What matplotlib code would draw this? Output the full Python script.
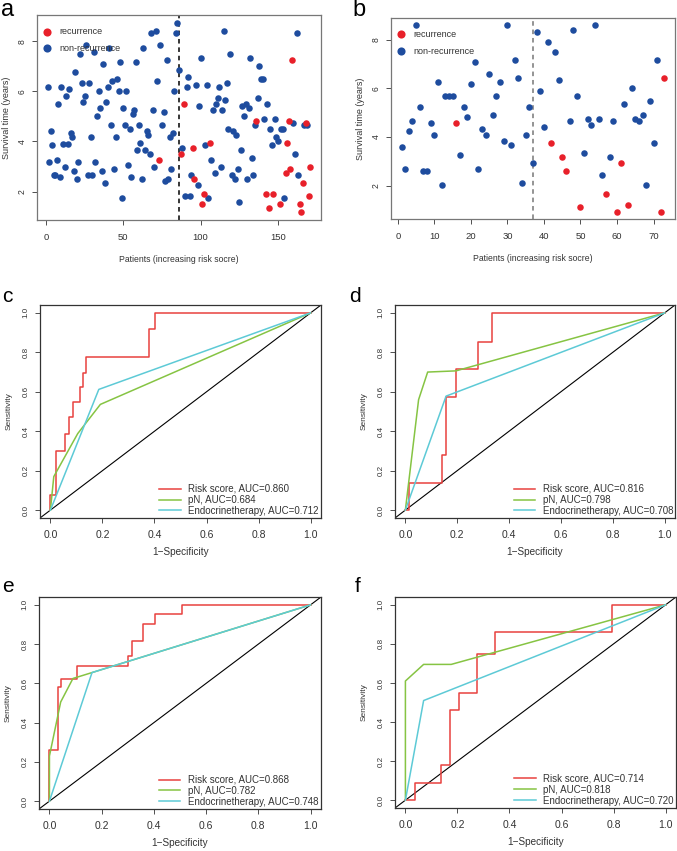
"""Risk score figure: survival scatter (a, b) and ROC curves (c-f)."""

import numpy as np
import matplotlib.pyplot as plt

plt.rcParams['font.family'] = ['Liberation Sans', 'DejaVu Sans']


# %% data: survival time of each patient, ordered by risk score

surv_a = [6.16, 3.17, 4.42, 3.84, 2.67, 2.67, 3.25, 5.5, 2.6, 6.16,
          3.9, 3.0, 5.83, 3.9, 6.08, 4.35, 4.17, 2.83, 6.75, 2.5,
          3.17, 7.5, 6.33, 5.58, 5.83, 7.84, 2.67, 6.33, 4.17, 2.67,
          7.57, 3.17, 5.0, 6.0, 5.33, 2.83, 7.08, 2.33, 5.58, 6.16,
          7.74, 4.66, 6.42, 2.91, 4.17, 6.5, 6.0, 7.17, 1.75, 5.33,
          4.66, 6.0, 3.08, 4.5, 2.6, 5.08, 5.25, 7.17, 3.66, 4.66,
          3.92, 2.5, 7.74, 3.66, 4.42, 4.24, 3.5, 8.33, 5.25, 3.0,
          8.4, 6.42, 3.25, 7.84, 4.66, 5.17, 2.42, 7.25, 2.5, 4.17,
          2.91, 4.34, 6.0, 8.33, 8.74, 6.83, 3.5, 3.74, 5.5, 1.84,
          6.16, 6.58, 1.84, 2.67, 3.74, 2.5, 6.25, 2.26, 5.41, 7.33,
          1.5, 1.92, 3.84, 6.25, 1.75, 3.92, 3.25, 5.25, 2.75, 5.5,
          5.75, 6.16, 3.0, 5.25, 8.4, 5.66, 6.33, 4.5, 7.5, 2.67,
          4.42, 2.5, 4.25, 2.91, 1.58, 3.66, 5.41, 5.0, 5.5, 2.5,
          5.33, 7.33, 3.33, 2.67, 4.66, 4.83, 5.75, 7.0, 6.5, 6.5,
          4.91, 1.92, 5.5, 1.33, 4.5, 3.84, 1.92, 4.91, 4.17, 4.0,
          1.5, 4.5, 4.5, 1.75, 2.75, 3.92, 4.83, 2.91, 7.25, 4.75,
          3.5, 8.33, 2.67, 1.5, 1.17, 2.33, 4.66, 4.75, 4.66, 1.84,
          3.0]
recur_a = [73, 87, 89, 95, 96, 101, 102, 106, 136, 142, 144, 147, 151,
           155, 156, 157, 158, 159, 164, 165, 166, 168, 170, 171]
cut_a = 86

surv_b = [3.58, 2.68, 4.26, 4.67, 8.59, 5.24, 2.58, 2.58, 4.59, 4.08,
          6.25, 2.01, 5.67, 5.67, 5.67, 4.59, 3.27, 5.24, 4.83, 6.17,
          7.09, 2.68, 4.34, 4.08, 6.58, 4.92, 5.67, 6.25, 3.84, 8.59,
          3.68, 7.17, 6.42, 2.09, 4.08, 5.24, 2.92, 8.33, 5.9, 4.43,
          7.92, 3.76, 7.5, 6.34, 3.18, 2.58, 4.67, 8.41, 5.67, 1.1,
          3.33, 4.75, 4.51, 8.59, 4.75, 2.42, 1.67, 3.17, 4.67, 0.93,
          2.92, 5.34, 1.18, 6.0, 4.75, 4.67, 4.92, 2.01, 5.5, 3.76,
          7.17, 0.93, 6.42]
recur_b = [16, 42, 45, 46, 50, 57, 60, 61, 63, 72, 73]
cut_b = 37

# ROC curves as (1-specificity, sensitivity) vertices
risk_c = ([0, 0, 0.023, 0.023, 0.055, 0.055, 0.071, 0.071, 0.087, 0.087,
           0.113, 0.113, 0.126, 0.126, 0.135, 0.135, 0.378, 0.378, 0.401, 0.401, 1],
          [0, 0.077, 0.077, 0.30, 0.30, 0.386, 0.386, 0.473, 0.473, 0.547,
           0.547, 0.622, 0.622, 0.697, 0.697, 0.774, 0.774, 0.92, 0.92, 1, 1])
pn_c = ([0, 0.013, 0.105, 0.192, 1], [0, 0.17, 0.388, 0.536, 1])
endo_c = ([0, 0.186, 1], [0, 0.612, 1])
auc_c = [0.860, 0.684, 0.712]

risk_d = ([0, 0.015, 0.015, 0.14, 0.14, 0.157, 0.157, 0.195, 0.195, 0.28,
           0.28, 0.333, 0.333, 1],
          [0, 0, 0.14, 0.14, 0.28, 0.28, 0.575, 0.575, 0.714, 0.714,
           0.852, 0.852, 1, 1])
pn_d = ([0, 0.051, 0.086, 0.195, 1], [0, 0.56, 0.70, 0.706, 1])
endo_d = ([0, 0.157, 1], [0, 0.578, 1])
auc_d = [0.816, 0.798, 0.708]

risk_e = ([0, 0, 0.031, 0.031, 0.043, 0.043, 0.105, 0.105, 0.30, 0.30,
           0.316, 0.316, 0.358, 0.358, 0.403, 0.403, 0.509, 0.509, 1],
          [0, 0.263, 0.263, 0.58, 0.58, 0.62, 0.62, 0.69, 0.69, 0.741,
           0.741, 0.816, 0.816, 0.904, 0.904, 0.953, 0.953, 1, 1])
pn_e = ([0, 0, 0.043, 0.09, 0.163, 1], [0, 0.23, 0.505, 0.625, 0.655, 1])
endo_e = ([0, 0.163, 1], [0, 0.655, 1])
auc_e = [0.868, 0.782, 0.748]

risk_f = ([0, 0.035, 0.035, 0.137, 0.137, 0.173, 0.173, 0.207, 0.207, 0.276,
           0.276, 0.343, 0.343, 0.793, 0.793, 1],
          [0, 0, 0.09, 0.09, 0.18, 0.18, 0.46, 0.46, 0.55, 0.55,
           0.746, 0.746, 0.861, 0.861, 1, 1])
pn_f = ([0, 0, 0.07, 0.176, 1], [0, 0.61, 0.695, 0.695, 1])
endo_f = ([0, 0.07, 1], [0, 0.51, 1])
auc_f = [0.714, 0.818, 0.720]

roc_names = ['Risk score', 'pN', 'Endocrinetherapy']
roc_colors = ['#E8413F', '#86C443', '#5DCAD6']
red, blue = '#E8202A', '#1E4C9E'

# %% layout helpers

W, H = 677, 851


def rect(left, top, right, bottom):
    return [left / W, 1 - bottom / H, (right - left) / W, (bottom - top) / H]


def style_axes(ax, frame='#555555'):
    for sp in ax.spines.values():
        sp.set_color(frame)
        sp.set_linewidth(0.9)
    ax.tick_params(direction='out', length=3.5, width=0.6, pad=4,
                   colors='#333333')
    for lab in ax.get_yticklabels():
        lab.set_rotation(90)
        lab.set_va('center')


fig = plt.figure(figsize=(W / 100, H / 100), dpi=100)


# %% survival scatter panels

def scatter_panel(box, surv, recur, cut, ticks, line_color, letter, letter_xy):
    ax = fig.add_axes(rect(*box))
    idx = np.arange(1, len(surv) + 1)
    surv = np.array(surv)
    is_rec = np.isin(idx, recur)
    ax.scatter(idx[~is_rec], surv[~is_rec], s=22, color=blue, lw=0,
               label='non-recurrence', zorder=3)
    ax.scatter(idx[is_rec], surv[is_rec], s=22, color=red, lw=0,
               label='recurrence', zorder=3)
    ax.axvline(cut, color=line_color, ls=(0, (3, 2.5)), lw=1.1)
    n = len(surv)
    pad = 0.04 * (n - 1)
    ax.set_xlim(1 - pad, n + pad)
    span = surv.max() - surv.min()
    ax.set_ylim(surv.min() - 0.04 * span, surv.max() + 0.04 * span)
    ax.set_xticks(ticks)
    ax.set_yticks([2, 4, 6, 8])
    ax.set_xlabel('Patients (increasing risk socre)', fontsize=6.2,
                  labelpad=9, color='#333333')
    ax.set_ylabel('Survival time (years)', fontsize=6.5, labelpad=5,
                  color='#333333')
    style_axes(ax, frame='#777777')
    ax.tick_params(axis='x', labelsize=6.8, pad=6)
    ax.tick_params(axis='y', labelsize=6.2)
    h, l = ax.get_legend_handles_labels()
    ax.legend(h[::-1], l[::-1], loc='upper left', bbox_to_anchor=(0.0, 0.968),
              frameon=False, fontsize=6.5, handlelength=1.0,
              handletextpad=0.9, borderaxespad=0.2, labelspacing=0.85,
              markerscale=1.25, labelcolor='#333333')
    fig.text(letter_xy[0] / W, 1 - letter_xy[1] / H, letter, fontsize=17,
             va='center', ha='left')


scatter_panel((37, 15, 321, 220), surv_a, recur_a, cut_a, [0, 50, 100, 150],
              'black', 'a', (1, 10))
scatter_panel((391, 18, 675, 219), surv_b, recur_b, cut_b,
              list(range(0, 71, 10)), '#777777', 'b', (352, 10))


# %% ROC panels

def roc_panel(box, curves, aucs, letter, letter_xy):
    ax = fig.add_axes(rect(*box))
    ax.axline((0, 0), (1, 1), color='black', lw=0.8, zorder=1)
    for (x, y), name, col, auc in zip(curves, roc_names, roc_colors, aucs):
        ax.plot(x, y, color=col, lw=1.1, label=f'{name}, AUC={auc:.3f}',
                zorder=2)
    ax.set_xlim(-0.04, 1.04)
    ax.set_ylim(-0.04, 1.04)
    ticks = np.arange(0, 1.01, 0.2)
    ax.set_xticks(ticks)
    ax.set_yticks(ticks)
    ax.set_xticklabels([f'{t:.1f}' for t in ticks], fontsize=7.5)
    ax.set_yticklabels([f'{t:.1f}' for t in ticks], fontsize=5.8)
    ax.set_xlabel('1\u2212Specificity', fontsize=7.2, labelpad=5,
                  color='#333333')
    ax.set_ylabel('Sensitivity', fontsize=6, labelpad=7, color='#333333')
    style_axes(ax, frame='#333333')
    ax.tick_params(axis='x', pad=5)
    ax.legend(loc='lower left', bbox_to_anchor=(0.40, -0.022), frameon=False,
              fontsize=7, handlelength=2.2, handletextpad=0.8,
              labelspacing=0.1, borderaxespad=0.3, labelcolor='#333333')
    fig.text(letter_xy[0] / W, 1 - letter_xy[1] / H, letter, fontsize=15,
             va='center', ha='left')


roc_panel((40, 305, 321, 518), [risk_c, pn_c, endo_c], auc_c, 'c', (2, 296))
roc_panel((395, 305, 675, 518), [risk_d, pn_d, endo_d], auc_d, 'd', (349, 296))
roc_panel((39, 597, 321, 809), [risk_e, pn_e, endo_e], auc_e, 'e', (2, 586))
roc_panel((395, 597, 676, 808), [risk_f, pn_f, endo_f], auc_f, 'f', (355, 586))

plt.savefig('out.png', dpi=100)
